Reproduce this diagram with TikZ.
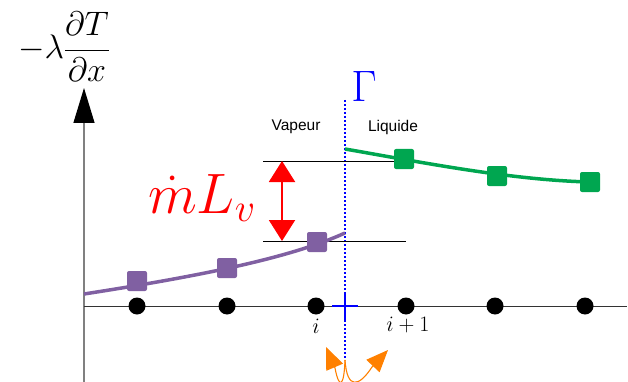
\RequirePackage{fix-cm}
\documentclass[tikz,border=0pt]{standalone}
\usepackage{fontspec}
\newfontfamily\labelfont{Liberation Sans}
\usetikzlibrary{arrows.meta}
\definecolor{vpurple}{RGB}{128,96,162}
\definecolor{lgreen}{RGB}{0,166,80}
\definecolor{orng}{RGB}{255,128,0}
\tikzset{
  dot/.style={circle,fill=black,inner sep=0pt,minimum size=17pt},
  vsq/.style={fill=vpurple,rounded corners=2pt,minimum size=20pt,inner sep=0pt},
  lsq/.style={fill=lgreen,rounded corners=2pt,minimum size=20pt,inner sep=0pt},
  phase/.style={font=\labelfont\fontsize{15.5}{18}\selectfont},
  bounce/.style={orng,line width=1.1pt,-{Triangle[width=18pt,length=22pt]}},
}
\begin{document}
\begin{tikzpicture}[x=1pt,y=-1pt]
\useasboundingbox (0,0) rectangle (628,382);
% axes
\coordinate (yb) at (84,382);
\coordinate (yt) at (84,88);
\draw[gray,line width=1.3pt,-{Triangle[width=21pt,length=35pt,color=black]}] (yb) -- (yt);
\coordinate (xl) at (84,306);
\coordinate (xr) at (627,306);
\draw[black!80,line width=1pt] (xl) -- (xr);
% top label
\node[inner sep=0pt] (lab) at (64,47) {\fontsize{34}{40}\selectfont $\displaystyle-\lambda\frac{\partial T}{\partial x}$};
% interface
\coordinate (gt) at (345,100);
\coordinate (gb) at (345,360);
\draw[blue,line width=1.3pt,dash pattern=on 2pt off 2pt] (gt) -- (gb);
\node[blue] (gam) at (364,86) {\fontsize{44}{48}\selectfont $\Gamma$};
\node[phase] (vap) at (296,127) {Vapeur};
\node[phase] (liq) at (393,127) {Liquide};
% dots
\foreach \n/\x in {1/137,2/227,3/316,4/406,5/495,6/585}
  \node[dot] (d\n) at (\x,306) {};
\node (li) at (316,326) {\fontsize{22}{26}\selectfont $i$};
\node (lip) at (408,325) {\fontsize{22}{26}\selectfont $i+1$};
% blue plus
\coordinate (ph1) at (332,306); \coordinate (ph2) at (358,306);
\coordinate (pv1) at (345,292); \coordinate (pv2) at (345,320);
\draw[blue,line width=2.6pt] (ph1) -- (ph2) (pv1) -- (pv2);
% reference lines
\coordinate (r1a) at (263,161); \coordinate (r1b) at (406,161);
\coordinate (r2a) at (263,241); \coordinate (r2b) at (406,241);
\draw[black,line width=0.9pt] (r1a) -- (r1b) (r2a) -- (r2b);
% curves
\coordinate (pa) at (84,294); \coordinate (pb) at (345,233);
\draw[vpurple,line width=3.5pt] (pa) .. controls (200,276) and (290,258) .. (pb);
\coordinate (ga) at (345,149); \coordinate (gbb) at (590,182);
\draw[lgreen,line width=3.5pt] (ga) .. controls (420,162) and (510,180) .. (gbb);
\foreach \n/\x/\y in {1/137/281,2/227/268,3/317/242}
  \node[vsq] (v\n) at (\x,\y) {};
\foreach \n/\x/\y in {1/404/159,2/497/176,3/590/182}
  \node[lsq] (l\n) at (\x,\y) {};
% red jump arrow
\coordinate (ja) at (282,161); \coordinate (jb) at (282,241);
\draw[red,line width=2pt,{Triangle[width=26pt,length=21pt]}-{Triangle[width=26pt,length=21pt]}] (ja) -- (jb);
\node[red,inner sep=0pt] (mlv) at (202,198) {\fontsize{57}{60}\selectfont $\dot{m}L_v$};
% orange bounce arrows
\coordinate (o0) at (345,360);
\coordinate (olb) at (335,368); \coordinate (ol) at (326,347);
\coordinate (orb) at (372,367); \coordinate (or) at (388,350);
\draw[bounce] (o0) .. controls (344,388) and (339,389) .. (olb) -- (ol);
\draw[bounce] (o0) .. controls (347,390) and (359,387) .. (orb) -- (or);
\end{tikzpicture}
\end{document}
